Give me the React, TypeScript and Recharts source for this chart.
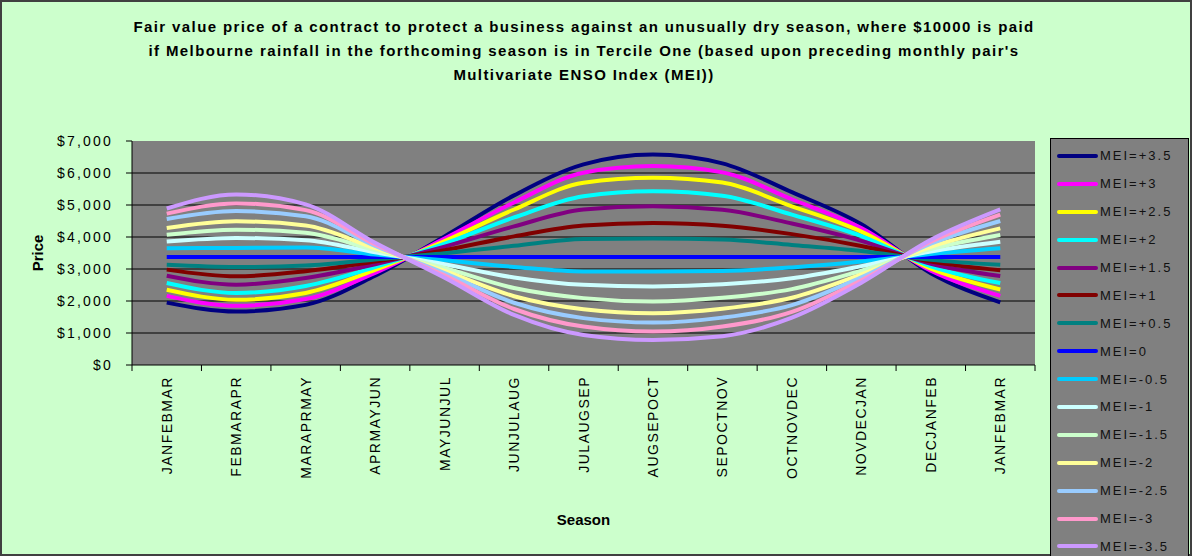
import { LineChart, Line, XAxis, YAxis, CartesianGrid } from 'recharts';

const SEASONS = [
  'JANFEBMAR', 'FEBMARAPR', 'MARAPRMAY', 'APRMAYJUN', 'MAYJUNJUL', 'JUNJULAUG', 'JULAUGSEP',
  'AUGSEPOCT', 'SEPOCTNOV', 'OCTNOVDEC', 'NOVDECJAN', 'DECJANFEB', 'JANFEBMAR',
];

// price ($) per season, one array per MEI value
const MEI_P35 = [1950, 1670, 1880, 2790, 4020, 5300, 6270, 6580, 6300, 5400, 4400, 2870, 1960];
const MEI_P30 = [2160, 1850, 2060, 2880, 3950, 5080, 6010, 6215, 6020, 5180, 4280, 2945, 2160];
const MEI_P25 = [2350, 2040, 2250, 2970, 3870, 4860, 5695, 5850, 5700, 4960, 4170, 3010, 2360];
const MEI_P20 = [2560, 2250, 2470, 3060, 3790, 4610, 5275, 5430, 5290, 4700, 4030, 3085, 2560];
const MEI_P15 = [2790, 2510, 2720, 3150, 3700, 4330, 4860, 4960, 4850, 4420, 3880, 3165, 2780];
const MEI_P10 = [2980, 2770, 2930, 3230, 3590, 4020, 4360, 4440, 4350, 4090, 3720, 3230, 2960];
const MEI_P05 = [3130, 3060, 3110, 3300, 3490, 3725, 3940, 3950, 3920, 3750, 3560, 3285, 3130];
const MEI_0 = [3375, 3375, 3375, 3375, 3375, 3375, 3375, 3375, 3375, 3375, 3375, 3375, 3375];
const MEI_M05 = [3650, 3660, 3670, 3450, 3270, 3065, 2925, 2925, 2940, 3050, 3235, 3470, 3650];
const MEI_M10 = [3860, 3970, 3900, 3520, 3150, 2735, 2505, 2455, 2520, 2710, 3090, 3545, 3850];
const MEI_M15 = [4070, 4230, 4130, 3590, 3030, 2405, 2090, 1985, 2100, 2370, 2945, 3620, 4060];
const MEI_M20 = [4280, 4490, 4360, 3650, 2940, 2150, 1745, 1620, 1760, 2100, 2830, 3695, 4270];
const MEI_M25 = [4560, 4810, 4650, 3720, 2870, 1945, 1465, 1325, 1480, 1870, 2740, 3790, 4500];
const MEI_M30 = [4730, 5050, 4840, 3770, 2800, 1750, 1200, 1045, 1200, 1660, 2650, 3850, 4700];
const MEI_M35 = [4890, 5330, 5020, 3820, 2730, 1565, 940, 785, 900, 1480, 2570, 3910, 4860];

const Y_TICKS = [0, 1000, 2000, 3000, 4000, 5000, 6000, 7000];
const GRID_VALUES = [1000, 2000, 3000, 4000, 5000, 6000];

const SERIES = [
  { key: 'p35', name: 'MEI=+3.5', color: '#000080', values: MEI_P35 },
  { key: 'p30', name: 'MEI=+3', color: '#FF00FF', values: MEI_P30 },
  { key: 'p25', name: 'MEI=+2.5', color: '#FFFF00', values: MEI_P25 },
  { key: 'p20', name: 'MEI=+2', color: '#00FFFF', values: MEI_P20 },
  { key: 'p15', name: 'MEI=+1.5', color: '#800080', values: MEI_P15 },
  { key: 'p10', name: 'MEI=+1', color: '#800000', values: MEI_P10 },
  { key: 'p05', name: 'MEI=+0.5', color: '#008080', values: MEI_P05 },
  { key: 'z0', name: 'MEI=0', color: '#0000FF', values: MEI_0 },
  { key: 'm05', name: 'MEI=-0.5', color: '#00CCFF', values: MEI_M05 },
  { key: 'm10', name: 'MEI=-1', color: '#CCFFFF', values: MEI_M10 },
  { key: 'm15', name: 'MEI=-1.5', color: '#CCFFCC', values: MEI_M15 },
  { key: 'm20', name: 'MEI=-2', color: '#FFFF99', values: MEI_M20 },
  { key: 'm25', name: 'MEI=-2.5', color: '#99CCFF', values: MEI_M25 },
  { key: 'm30', name: 'MEI=-3', color: '#FF99CC', values: MEI_M30 },
  { key: 'm35', name: 'MEI=-3.5', color: '#CC99FF', values: MEI_M35 },
];

const data = SEASONS.map((season, i) => {
  const row: Record<string, string | number> = { season };
  SERIES.forEach((s) => { row[s.key] = s.values[i]; });
  return row;
});

const FONT = 'Arial, "Liberation Sans", sans-serif';
const PLOT_LEFT = 132;
const PLOT_RIGHT = 1035;
const HALF_STEP = (PLOT_RIGHT - PLOT_LEFT) / SEASONS.length / 2;

function SeasonTick(props: any) {
  const { x, y, payload, index } = props;
  return (
    <g>
      <line x1={x - HALF_STEP} x2={x - HALF_STEP} y1={y} y2={y + 6} stroke="#000" />
      {index === SEASONS.length - 1 && (
        <line x1={x + HALF_STEP} x2={x + HALF_STEP} y1={y} y2={y + 6} stroke="#000" />
      )}
      <text
        x={x + 5}
        y={y + 11}
        transform={`rotate(-90 ${x + 5} ${y + 11})`}
        textAnchor="end"
        fontSize={14}
        letterSpacing={1.5}
        fontFamily={FONT}
        fill="#000"
      >
        {payload.value}
      </text>
    </g>
  );
}

export default function App() {
  return (
    <div
      style={{
        position: 'absolute', left: 0, top: 0, width: 1192, height: 556, overflow: 'hidden',
        background: '#CCFFCC', boxShadow: 'inset 0 0 0 2px #404040', fontFamily: FONT,
      }}
    >
      <div
        style={{
          position: 'absolute', left: 0, top: 15, width: 1168, textAlign: 'center',
          fontSize: 15, fontWeight: 'bold', lineHeight: '24px', letterSpacing: 1.4, color: '#000',
        }}
      >
        Fair value price of a contract to protect a business against an unusually dry season, where $10000 is paid
        <br />
        if Melbourne rainfall in the forthcoming season is in Tercile One (based upon preceding monthly pair's
        <br />
        Multivariate ENSO Index (MEI))
      </div>

      <div style={{ position: 'absolute', left: 0, top: 0 }}>
        <LineChart width={1192} height={556} data={data} margin={{ top: 141, right: 1192 - PLOT_RIGHT, bottom: 81, left: 22 }}>
          <CartesianGrid vertical={false} horizontalValues={GRID_VALUES} stroke="#000" fill="#808080" />
          <XAxis
            dataKey="season"
            interval={0}
            height={110}
            padding={{ left: HALF_STEP, right: HALF_STEP }}
            axisLine={{ stroke: '#000' }}
            tickLine={false}
            tickSize={0}
            tickMargin={0}
            tick={<SeasonTick />}
            label={{ value: 'Season', position: 'bottom', offset: 39, fill: '#000', fontSize: 15, fontWeight: 'bold', fontFamily: FONT }}
          />
          <YAxis
            width={110}
            domain={[0, 7000]}
            ticks={Y_TICKS}
            interval={0}
            tickFormatter={(v: number) => `$${v.toLocaleString('en-US')}`}
            axisLine={{ stroke: '#000' }}
            tickLine={{ stroke: '#000' }}
            tickSize={6}
            tickMargin={13}
            tick={{ fill: '#000', fontSize: 14, letterSpacing: 2.2, fontFamily: FONT }}
            label={{ value: 'Price', angle: -90, position: 'insideLeft', offset: 16, fill: '#000', fontSize: 15, fontWeight: 'bold', fontFamily: FONT, style: { textAnchor: 'middle' } }}
          />
          {SERIES.map((s) => (
            <Line
              key={s.key}
              dataKey={s.key}
              name={s.name}
              type="monotone"
              stroke={s.color}
              strokeWidth={4}
              dot={false}
              isAnimationActive={false}
            />
          ))}
        </LineChart>
      </div>

      <div
        style={{
          position: 'absolute', left: 1050, top: 138, width: 139, height: 430, boxSizing: 'border-box',
          background: '#808080', border: '1px solid #000', paddingTop: 3,
        }}
      >
        {SERIES.map((s) => (
          <div key={s.key} style={{ display: 'flex', alignItems: 'center', height: 27.9 }}>
            <div style={{ width: 41, height: 4, marginLeft: 6, background: s.color, borderRadius: 2 }} />
            <span style={{ fontSize: 13, letterSpacing: 2, marginLeft: 2, color: '#111' }}>{s.name}</span>
          </div>
        ))}
      </div>
    </div>
  );
}
